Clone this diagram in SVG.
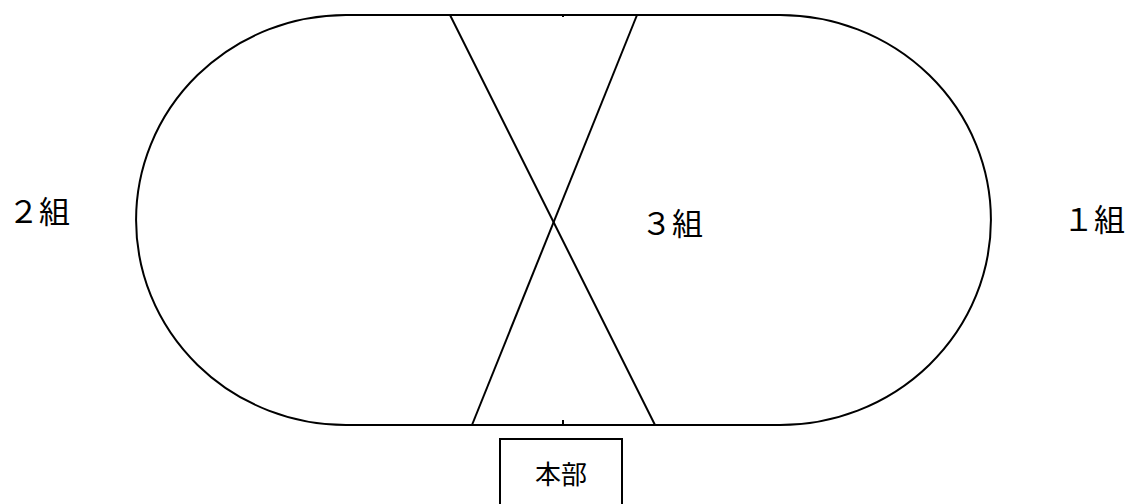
<svg xmlns="http://www.w3.org/2000/svg" width="1130" height="504" viewBox="0 0 1130 504">
<style>
.ln{fill:none;stroke:#000;stroke-width:2}
.lbl{font-family:"Noto Sans CJK JP","Noto Sans",sans-serif;fill:#000;font-size:31px}
</style>
<rect width="1130" height="504" fill="#fff"/>
<g id="track">
<path class="ln" d="M346 15 H780 A211 205 0 0 1 780 425 H346 A210 205 0 0 1 346 15 Z"/>
</g>
<g id="connectors">
<line class="ln" x1="450" y1="15" x2="655" y2="425"/>
<line class="ln" x1="637" y1="15" x2="472" y2="425"/>
<line class="ln" x1="563" y1="15" x2="563" y2="17"/>
<line class="ln" x1="563" y1="420" x2="563" y2="425"/>
</g>
<g id="group2"><text class="lbl" x="8" y="223">２組</text></g>
<g id="group3"><text class="lbl" x="641" y="235">３組</text></g>
<g id="group1"><text class="lbl" x="1063" y="231">１組</text></g>
<g id="honbu">
<rect class="ln" x="500" y="439" width="122" height="70"/>
<text class="lbl" x="561" y="484" style="font-size:26px" text-anchor="middle">本部</text>
</g>
</svg>
